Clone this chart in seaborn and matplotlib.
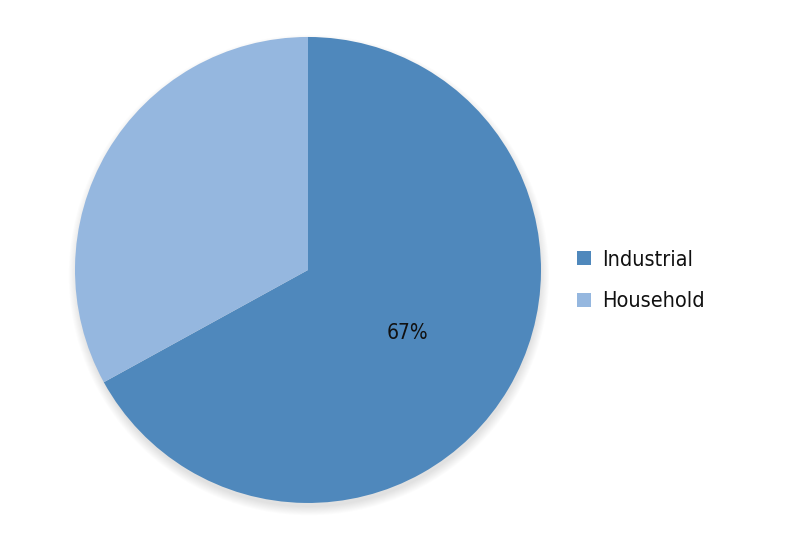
import matplotlib
matplotlib.use("Agg")
import matplotlib.pyplot as plt
from matplotlib.patches import Circle
import seaborn as sns

# --- data -------------------------------------------------------------------
labels = ["Industrial", "Household"]
shares = [67, 33]
colors = ["#4f88bc", "#95b7df"]

sns.set_theme(style="white")
plt.rcParams["font.family"] = ["DejaVu Sans"]
plt.rcParams["font.stretch"] = "condensed"

fig = plt.figure(figsize=(8, 5.42), dpi=100)
ax = fig.add_axes([0.09375 - 0.05 * 0.5825, 0.072 - 0.05 * 0.8598,
                   0.5825 * 1.1, 0.8598 * 1.1])

# soft drop shadow, mostly under the bottom edge
for i in range(10):
    r = 0.995 + i * 0.004
    ax.add_patch(Circle((0.004, -0.022), r, color="black", alpha=0.01, lw=0, zorder=0))


def pct_label(p):
    return f"{p:.0f}%" if p > 50 else ""


wedges, texts, autotexts = ax.pie(
    shares, colors=colors, startangle=90, counterclock=False,
    autopct=pct_label, pctdistance=0.5, radius=1.0,
    wedgeprops=dict(linewidth=0),
    textprops=dict(fontsize=15, color="#111111", fontstretch="condensed"),
)
for w in wedges:
    w.set_zorder(2)
for t in autotexts:
    t.set_zorder(3)
    x, y = t.get_position()
    t.set_position((x - 0.005, y - 0.015))
ax.set_aspect("equal")
ax.set_xlim(-1.1, 1.1)
ax.set_ylim(-1.1, 1.1)
ax.axis("off")

leg = fig.legend(wedges, labels, loc="upper left", bbox_to_anchor=(0.697, 0.575),
                 frameon=False, prop=dict(size=15.5, stretch="condensed"),
                 handlelength=0.65, handleheight=0.65,
                 handletextpad=0.5, labelspacing=1.0)
for t in leg.get_texts():
    t.set_color("#111111")

fig.savefig("out.png", dpi=100)
